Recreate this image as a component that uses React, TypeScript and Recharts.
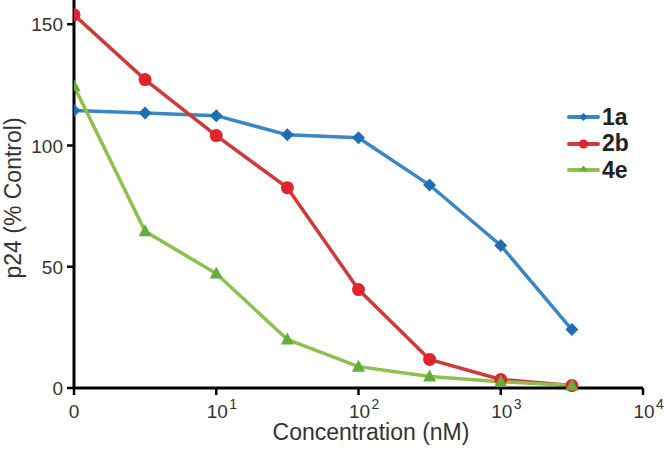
import React from "react";
import { LineChart, Line, XAxis, YAxis, Legend } from "recharts";

const concentrations = [1, 3.16, 10, 31.6, 100, 316, 1000, 3162];
const series1a = [114.4, 113.4, 112.3, 104.4, 103.2, 83.7, 58.8, 24.1];
const series2b = [153.9, 127.2, 104.1, 82.6, 40.6, 11.8, 3.5, 1.0];
const series4e = [124.5, 64.6, 47.2, 20.0, 8.8, 4.7, 2.6, 1.0];
const xTicks = [1, 10, 100, 1000, 10000];
const yTicks = [0, 50, 100, 150];
const seriesNames = ["1a", "2b", "4e"];

const data = concentrations.map((c, i) => ({
  conc: c,
  a: series1a[i],
  b: series2b[i],
  e: series4e[i],
}));

const BLUE_LINE = "#3A86C6";
const BLUE_DOT = "#1F6DB5";
const RED_LINE = "#CF3A39";
const RED_DOT = "#E3232B";
const GREEN_LINE = "#8DC04C";
const GREEN_DOT = "#66AC3A";
const FONT = "'Liberation Sans', Arial, Helvetica, sans-serif";

const Diamond = (props: any) => {
  const { cx, cy, index } = props;
  if (cx == null || cy == null) return null;
  const s = 6.5;
  return (
    <path
      key={`d-${index}`}
      d={`M${cx},${cy - s} L${cx + s},${cy} L${cx},${cy + s} L${cx - s},${cy} Z`}
      fill={BLUE_DOT}
    />
  );
};

const Dot = (props: any) => {
  const { cx, cy, index } = props;
  if (cx == null || cy == null) return null;
  return <circle key={`c-${index}`} cx={cx} cy={cy} r={6.5} fill={RED_DOT} />;
};

const Tri = (props: any) => {
  const { cx, cy, index } = props;
  if (cx == null || cy == null) return null;
  const w = 6.5;
  return (
    <path
      key={`t-${index}`}
      d={`M${cx},${cy - 7} L${cx + w},${cy + 5} L${cx - w},${cy + 5} Z`}
      fill={GREEN_DOT}
    />
  );
};

const XTick = (props: any) => {
  const { x, y, payload } = props;
  const v = payload.value;
  if (v === 1) {
    return (
      <text x={x} y={y + 21} textAnchor="middle" fontSize={19} fill="#333" fontFamily={FONT}>
        0
      </text>
    );
  }
  const exp = Math.round(Math.log10(v));
  return (
    <g>
      <text x={x + 1} y={y + 21} textAnchor="middle" fontSize={19} fill="#333" fontFamily={FONT}>
        10
      </text>
      <text x={x + 13} y={y + 12} textAnchor="start" fontSize={14} fill="#333" fontFamily={FONT}>
        {exp}
      </text>
    </g>
  );
};

const YTick = (props: any) => {
  const { x, y, payload } = props;
  return (
    <text x={x - 2} y={y + 7} textAnchor="end" fontSize={19} fill="#333" fontFamily={FONT}>
      {payload.value}
    </text>
  );
};

const legendItems = [
  { name: seriesNames[0], line: BLUE_LINE, dot: BLUE_DOT, shape: "diamond" },
  { name: seriesNames[1], line: RED_LINE, dot: RED_DOT, shape: "circle" },
  { name: seriesNames[2], line: GREEN_LINE, dot: GREEN_DOT, shape: "triangle" },
];

const LegendContent = () => (
  <div style={{ fontFamily: FONT }}>
    {legendItems.map((it) => (
      <div key={it.name} style={{ display: "flex", alignItems: "center", height: 26.5 }}>
        <svg width={34} height={14} style={{ display: "block" }}>
          <line x1={2} y1={7} x2={31} y2={7} stroke={it.line} strokeWidth={4} strokeLinecap="round" />
          {it.shape === "diamond" && <path d="M16.5,3 L20.5,7 L16.5,11 L12.5,7 Z" fill={it.dot} />}
          {it.shape === "circle" && <circle cx={16.5} cy={7} r={4.5} fill={it.dot} />}
          {it.shape === "triangle" && <path d="M16.5,2.5 L21,8 L12,8 Z" fill={it.dot} />}
        </svg>
        <span style={{ fontWeight: "bold", fontSize: 23, color: "#222", marginLeft: 1, lineHeight: 1 }}>
          {it.name}
        </span>
      </div>
    ))}
  </div>
);

export default function App() {
  return (
    <div style={{ position: "absolute", left: 0, top: 0, width: 666, height: 450, background: "#fff" }}>
      <LineChart width={666} height={450} data={data} margin={{ top: 0, right: 23, bottom: 12, left: 0 }}>
        <XAxis
          dataKey="conc"
          type="number"
          scale="log"
          domain={[1, 10000]}
          ticks={xTicks}
          allowDataOverflow
          height={50}
          stroke="#000"
          axisLine={{ stroke: "#000", strokeWidth: 3 }}
          tickLine={{ stroke: "#000", strokeWidth: 2.5 }}
          tickSize={7}
          tick={<XTick />}
          label={{
            content: (p: any) => {
              const vb = p.viewBox || { x: 74, y: 388, width: 569 };
              return (
                <text
                  x={vb.x + 297}
                  y={vb.y + 52}
                  textAnchor="middle"
                  fontSize={23}
                  fill="#333"
                  fontFamily={FONT}
                >
                  Concentration (nM)
                </text>
              );
            },
          }}
        />
        <YAxis
          type="number"
          domain={[0, 160]}
          ticks={yTicks}
          width={74}
          axisLine={{ stroke: "#000", strokeWidth: 3 }}
          tickLine={{ stroke: "#000", strokeWidth: 2.5 }}
          tickSize={7}
          tick={<YTick />}
          label={{
            content: () => (
              <text
                x={21}
                y={198}
                transform="rotate(-90 21 198)"
                textAnchor="middle"
                fontSize={23}
                fill="#333"
                fontFamily={FONT}
              >
                p24 (% Control)
              </text>
            ),
          }}
        />
        <Legend
          layout="vertical"
          align="center"
          verticalAlign="middle"
          content={<LegendContent />}
          wrapperStyle={{ position: "absolute", left: 567, top: 104, width: 90 }}
        />
        <Line
          dataKey="a"
          name={seriesNames[0]}
          stroke={BLUE_LINE}
          strokeWidth={3.5}
          dot={<Diamond />}
          activeDot={false}
          isAnimationActive={false}
        />
        <Line
          dataKey="b"
          name={seriesNames[1]}
          stroke={RED_LINE}
          strokeWidth={3.5}
          dot={<Dot />}
          activeDot={false}
          isAnimationActive={false}
        />
        <Line
          dataKey="e"
          name={seriesNames[2]}
          stroke={GREEN_LINE}
          strokeWidth={3.5}
          dot={<Tri />}
          activeDot={false}
          isAnimationActive={false}
        />
      </LineChart>
    </div>
  );
}
